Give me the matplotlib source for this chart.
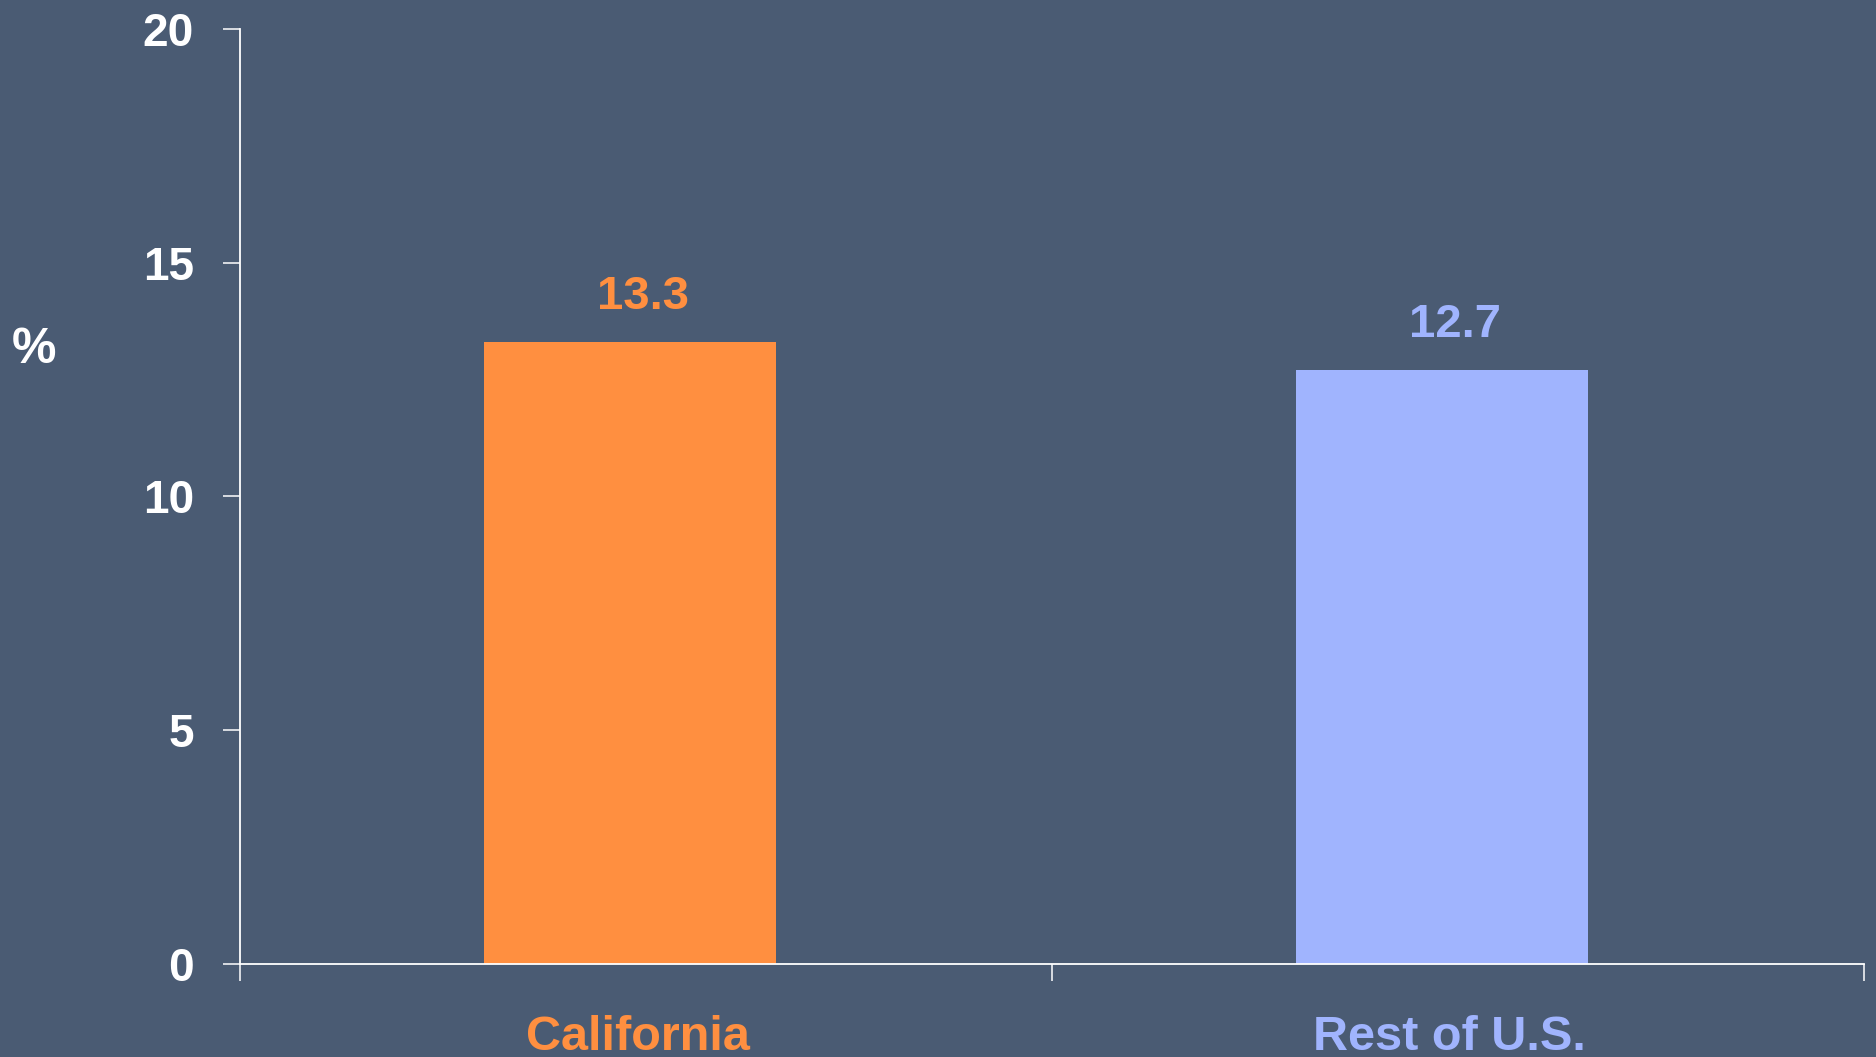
import matplotlib.pyplot as plt
from matplotlib.ticker import FixedLocator

# data
categories = ['California', 'Rest of U.S.']
values = [13.3, 12.7]
colors = ['#FF8F40', '#A0B4FE']
yticks = [0, 5, 10, 15, 20]

bg = '#4A5B73'
plt.rcParams['font.family'] = ['Liberation Sans', 'DejaVu Sans']
plt.rcParams['font.weight'] = 'bold'

fig = plt.figure(figsize=(18.76, 10.57), dpi=100, facecolor=bg)
ax = fig.add_axes([0.1279, 0.0880, 0.8657, 0.8846], facecolor=bg)

x = range(len(categories))
ax.bar([i - 0.02 for i in x], values, width=0.36, color=colors, zorder=2)

for i, v in enumerate(values):
    ax.annotate(f'{v:.1f}', xy=(i - 0.004, v), xytext=(0, 24), textcoords='offset points',
                ha='center', va='baseline', color=colors[i], fontsize=34, fontweight='bold')

ax.set_xlim(-0.5, len(categories) - 0.5)
ax.set_ylim(0, 20)
ax.set_yticks(yticks)
ax.set_yticklabels([str(t) for t in yticks])

# tick marks at category boundaries, labels at centres
ax.xaxis.set_major_locator(FixedLocator([-0.5, 0.5, 1.5]))
ax.xaxis.set_major_formatter(plt.NullFormatter())
ax.set_xticks([i - 0.01 for i in x], minor=True)
ax.set_xticklabels(categories, minor=True)
ax.tick_params(axis='x', which='minor', length=0, pad=37, labelsize=35)
for lbl, c in zip(ax.get_xticklabels(minor=True), colors):
    lbl.set_color(c)
    lbl.set_fontweight('bold')

ax.tick_params(axis='x', which='major', length=12, width=1.1, color='white', direction='out')
ax.tick_params(axis='y', length=12, width=1.1, color='white', labelcolor='white',
               labelsize=33, pad=21)
for lbl in ax.get_yticklabels():
    lbl.set_fontweight('bold')

for s in ['top', 'right']:
    ax.spines[s].set_visible(False)
for s in ['left', 'bottom']:
    ax.spines[s].set_color('white')
    ax.spines[s].set_linewidth(1.3)

fig.text(12 / 1876, 1 - 350 / 1057, '%', color='white', fontsize=36, fontweight='bold',
         ha='left', va='center')

fig.savefig('out.png', dpi=100, facecolor=bg)
